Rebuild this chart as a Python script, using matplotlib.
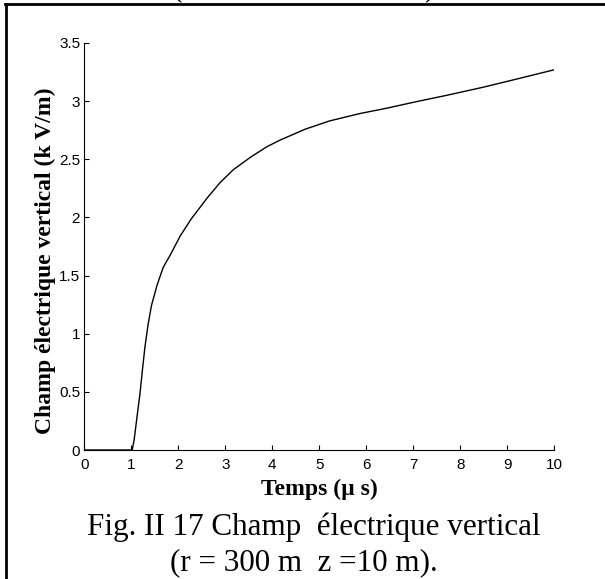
#!/usr/bin/python3

import numpy as np
from matplotlib import pyplot as plt
from matplotlib.lines import Line2D

# Field curve (time in microseconds, field in kV/m)
temps = [0, 1.0, 1.02, 1.06, 1.12, 1.185, 1.24, 1.29, 1.36, 1.43, 1.55, 1.68,
         1.82, 2.04, 2.28, 2.46, 2.60, 2.89, 3.17, 3.53, 3.88, 4.16, 4.70,
         5.22, 5.86, 6.43, 7.07, 7.71, 8.49, 9.2, 10.0]
champ = [0, 0, 0, 0.086, 0.28, 0.486, 0.70, 0.886, 1.086, 1.244, 1.42, 1.572,
         1.67, 1.84, 1.99, 2.085, 2.16, 2.30, 2.41, 2.516, 2.607, 2.664, 2.759,
         2.83, 2.893, 2.939, 2.996, 3.05, 3.12, 3.19, 3.27]

x_ticks = [0, 1, 2, 3, 4, 5, 6, 7, 8, 9, 10]
y_ticks = [0, 0.5, 1, 1.5, 2, 2.5, 3, 3.5]

W, H = 605, 579
serif = 'Liberation Serif'
sans = 'Liberation Sans'

fig = plt.figure(figsize=(W / 100, H / 100), dpi=100)
fig.patch.set_facecolor('white')

# axes box, positions in pixels converted to figure fractions
left, right, top, bottom = 84.3, 554.3, 43, 450
ax = fig.add_axes([left / W, 1 - bottom / H, (right - left) / W, (bottom - top) / H])

ax.plot(temps, champ, color='black', linewidth=1.0)
ax.set_xlim(0, 10)
ax.set_ylim(0, 3.5)
ax.set_xticks(x_ticks)
ax.set_xticklabels([str(v) for v in x_ticks])
ax.set_yticks(y_ticks)
ax.set_yticklabels(['0', '0.5', '1', '1.5', '2', '2.5', '3', '3.5'])
ax.tick_params(direction='in', length=3.6, width=0.8, labelsize=11, pad=3)
ax.tick_params(axis='x', pad=6)
for lab in ax.get_xticklabels() + ax.get_yticklabels():
    lab.set_fontfamily(sans)
ax.spines['top'].set_visible(False)
ax.spines['right'].set_visible(False)
for s in ['left', 'bottom']:
    ax.spines[s].set_linewidth(0.8)

# axis labels (bold Times-like)
fig.text(45 / W, 1 - 261 / H, 'Champ électrique vertical (k V/m)', rotation=90,
         ha='center', va='center', fontfamily=serif, fontweight='bold', fontsize=17)
fig.text(319 / W, 1 - 489 / H, 'Temps (µ s)', ha='center', va='center',
         fontfamily=serif, fontweight='bold', fontsize=17)

# caption
fig.text(314 / W, 1 - 535 / H, 'Fig. II 17 Champ  électrique vertical', ha='center',
         va='baseline', fontfamily=serif, fontsize=22.4)
fig.text(304 / W, 1 - 570 / H, '(r = 300 m  z =10 m).', ha='center',
         va='baseline', fontfamily=serif, fontsize=22.4)

# tails of the previous caption line, cut off at the top edge
fig.text(177 / W, 1 + 5 / H, '(', ha='center', va='baseline', fontfamily=serif, fontsize=22.4)
fig.text(430 / W, 1 + 5 / H, ')', ha='center', va='baseline', fontfamily=serif, fontsize=22.4)

# frame lines of the page (top and left only)
fig.add_artist(Line2D([5 / W, 1], [1 - 4 / H, 1 - 4 / H], transform=fig.transFigure,
                      color='black', linewidth=2.0))
fig.add_artist(Line2D([6 / W, 6 / W], [0, 1 - 4 / H], transform=fig.transFigure,
                      color='black', linewidth=2.0))

fig.savefig('out.png', dpi=100)
